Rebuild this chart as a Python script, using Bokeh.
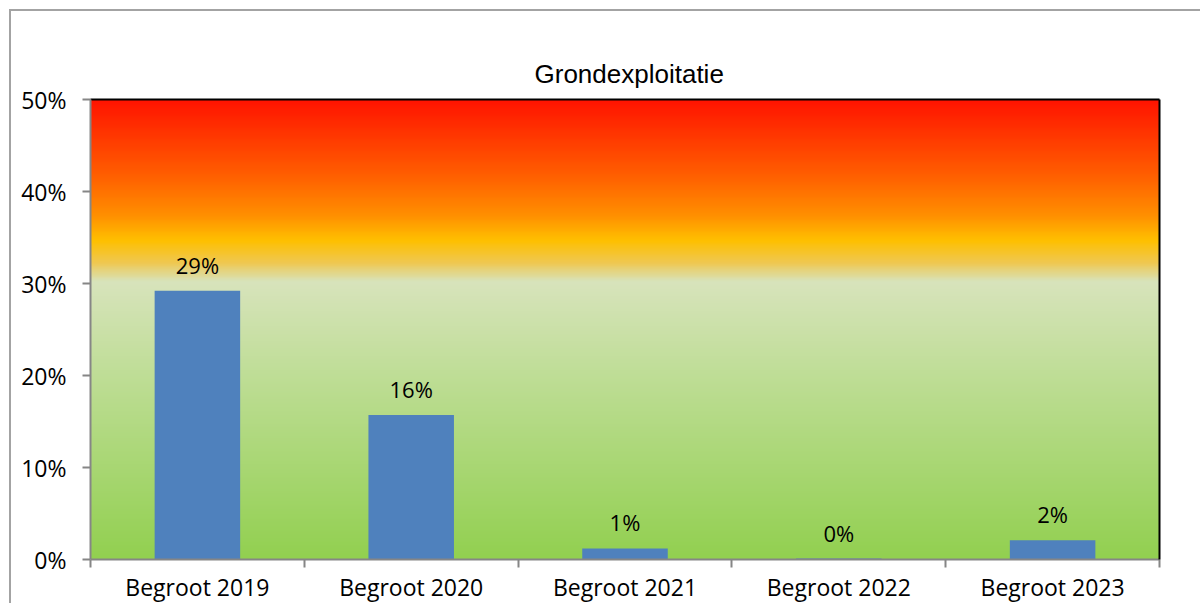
import numpy as np
from bokeh.plotting import figure
from bokeh.models import (Range1d, FixedTicker, NumeralTickFormatter, LinearAxis,
                          ColumnDataSource, LabelSet)
from bokeh.core.properties import value
from bokeh.embed import file_html
from bokeh.resources import INLINE

# ---- data ----
categories = ["Begroot 2019", "Begroot 2020", "Begroot 2021", "Begroot 2022", "Begroot 2023"]
values = [0.292, 0.157, 0.012, 0.001, 0.021]
y_ticks = [0.0, 0.1, 0.2, 0.3, 0.4, 0.5]
title_text = "Grondexploitatie"

# ---- background gradient stops (value, rgb) ----
grad_stops = [
    (0.0, (146, 208, 80)),
    (0.205, (192, 222, 152)),
    (0.302, (216, 228, 188)),
    (0.323, (240, 200, 80)),
    (0.347, (255, 192, 0)),
    (0.374, (255, 144, 0)),
    (0.417, (255, 96, 0)),
    (0.5, (255, 20, 0)),
]

FONT = "Open Sans"
OFF = 11  # canvas origin offset on the page (outer border)

p = figure(width=1202 - OFF, height=605 - OFF, output_backend="svg", toolbar_location=None,
           x_range=Range1d(0, len(categories)), y_range=Range1d(0, 0.5),
           min_border_left=90 - OFF, min_border_top=99 - OFF,
           min_border_right=43, min_border_bottom=46,
           background_fill_color="white", border_fill_color="white")
p.styles = {"border-left": "2px solid #a3a3a3", "border-top": "2px solid #a3a3a3",
            "margin-left": "9px", "margin-top": "9px"}
p.outline_line_color = None
p.xgrid.visible = False
p.ygrid.visible = False

# gradient image
n = 500
ys = np.linspace(0, 0.5, n)
sv = np.array([s[0] for s in grad_stops])
cols = np.array([s[1] for s in grad_stops], dtype=float)
r = np.interp(ys, sv, cols[:, 0])
g = np.interp(ys, sv, cols[:, 1])
b = np.interp(ys, sv, cols[:, 2])
img = np.empty((n, 2), dtype=np.uint32)
view = img.view(dtype=np.uint8).reshape((n, 2, 4))
for j in range(2):
    view[:, j, 0] = r.astype(np.uint8)
    view[:, j, 1] = g.astype(np.uint8)
    view[:, j, 2] = b.astype(np.uint8)
    view[:, j, 3] = 255
p.image_rgba(image=[img], x=0, y=0, dw=len(categories), dh=0.5)

# bars
centers = [i + 0.5 for i in range(len(categories))]
src = ColumnDataSource(dict(x=centers, top=values,
                            label=[f"{round(v * 100):.0f}%" for v in values]))
p.vbar(x="x", top="top", width=0.4, source=src, fill_color="#4F81BD", line_color=None)

labels = LabelSet(x="x", y="top", text="label", source=src, text_align="center",
                  text_baseline="alphabetic", y_offset=17, text_font=value(FONT),
                  text_font_size="22px", text_color="black")
p.add_layout(labels)

# x axis
xa = p.xaxis[0]
xa.ticker = FixedTicker(ticks=centers, minor_ticks=list(range(len(categories) + 1)))
xa.major_label_overrides = {c: lab for c, lab in zip(centers, categories)}
xa.major_tick_out = 0
xa.major_tick_in = 0
xa.major_tick_line_color = None
xa.minor_tick_out = 8
xa.minor_tick_in = 0
xa.minor_tick_line_color = "#868686"
xa.minor_tick_line_width = 2
xa.axis_line_color = "#868686"
xa.axis_line_width = 2
xa.major_label_standoff = 3
xa.major_label_text_font = FONT
xa.major_label_text_font_size = "23px"
xa.major_label_text_color = "black"

# y axis
ya = p.yaxis[0]
ya.ticker = FixedTicker(ticks=y_ticks)
ya.formatter = NumeralTickFormatter(format="0%")
ya.major_tick_out = 8
ya.major_tick_in = 0
ya.minor_tick_line_color = None
ya.major_tick_line_color = "#868686"
ya.major_tick_line_width = 2
ya.axis_line_color = "#868686"
ya.axis_line_width = 2
ya.major_label_standoff = 16
ya.major_label_text_font = FONT
ya.major_label_text_font_size = "23px"
ya.major_label_text_color = "black"

# black frame borders top/right
for side in ("right", "above"):
    ax = LinearAxis(ticker=FixedTicker(ticks=[]), axis_line_color="black", axis_line_width=2,
                    major_tick_line_color=None, minor_tick_line_color=None,
                    major_label_text_font_size="0px")
    p.add_layout(ax, side)

# title
p.title.text = title_text
p.title.text_font = "Liberation Sans"
p.title.text_font_size = "26px"
p.title.text_font_style = "normal"
p.title.text_color = "black"
p.title.align = "left"
p.title.offset = 444
p.title.standoff = 21

open("out.html", "w").write(file_html(p, INLINE))
